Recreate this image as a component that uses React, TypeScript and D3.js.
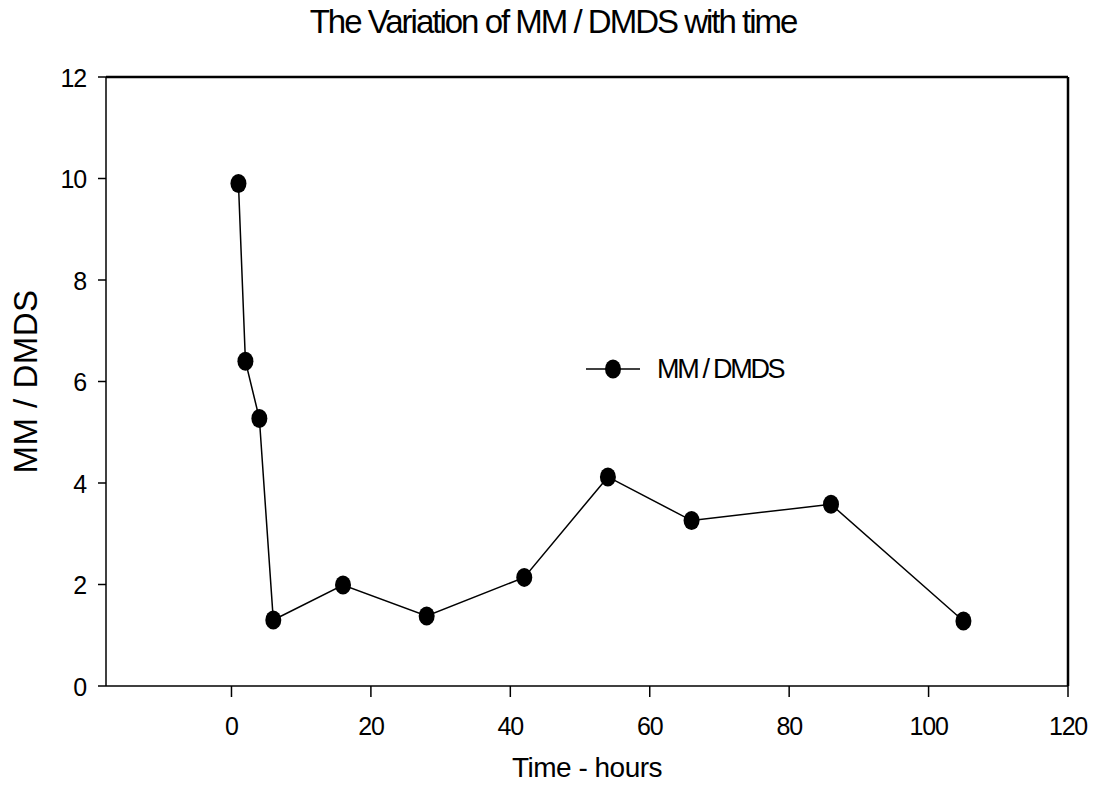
import React from 'react';
import * as d3 from 'd3';

// data
const hours = [1, 2, 4, 6, 16, 28, 42, 54, 66, 86, 105];
const ratio = [9.9, 6.4, 5.27, 1.3, 1.99, 1.38, 2.14, 4.12, 3.26, 3.58, 1.28];
const xTicks = [0, 20, 40, 60, 80, 100, 120];
const yTicks = [0, 2, 4, 6, 8, 10, 12];
const seriesName = 'MM / DMDS';

const W = 1097;
const H = 811;
const plot = { left: 106, right: 1068, top: 77, bottom: 686 };
const font = '"Liberation Sans", Arial, sans-serif';

export default function App() {
  const x = d3.scaleLinear().domain([-18, 120]).range([plot.left, plot.right]);
  const y = d3.scaleLinear().domain([0, 12]).range([plot.bottom, plot.top]);

  const points = hours.map((h, i) => [h, ratio[i]] as [number, number]);
  const line = d3
    .line<[number, number]>()
    .x((d) => x(d[0]))
    .y((d) => y(d[1]));

  const legendY = 369;
  const legendX = 586;

  return (
    <svg width={W} height={H} style={{ position: 'absolute', left: 0, top: 0, background: '#fff' }} fontFamily={font}>
      <text x={553} y={33} textAnchor="middle" fontSize={33} letterSpacing={-2}>
        The Variation of MM / DMDS with time
      </text>

      {/* frame */}
      <line x1={plot.left} x2={plot.right} y1={plot.top} y2={plot.top} stroke="#000" strokeWidth={2.5} />
      <line x1={plot.right} x2={plot.right} y1={plot.top} y2={plot.bottom} stroke="#000" strokeWidth={2.5} />
      <line x1={plot.left} x2={plot.left} y1={plot.top} y2={plot.bottom} stroke="#000" strokeWidth={1.5} />
      <line x1={plot.left} x2={plot.right} y1={plot.bottom} y2={plot.bottom} stroke="#000" strokeWidth={1.5} />

      {/* y axis */}
      {yTicks.map((t) => (
        <g key={'y' + t}>
          <line x1={plot.left - 8} x2={plot.left} y1={y(t)} y2={y(t)} stroke="#000" strokeWidth={1.5} />
          <text x={86} y={y(t) + 9.5} textAnchor="end" fontSize={25} letterSpacing={-1.2}>
            {t}
          </text>
        </g>
      ))}

      {/* x axis */}
      {xTicks.map((t) => (
        <g key={'x' + t}>
          <line x1={x(t)} x2={x(t)} y1={plot.bottom} y2={plot.bottom + 11} stroke="#000" strokeWidth={1.5} />
          <text x={x(t)} y={735} textAnchor="middle" fontSize={25} letterSpacing={-1.2}>
            {t}
          </text>
        </g>
      ))}

      <text x={587} y={777} textAnchor="middle" fontSize={28} letterSpacing={-0.5}>
        Time - hours
      </text>
      <text
        transform={`translate(37,${(plot.top + plot.bottom) / 2}) rotate(-90)`}
        textAnchor="middle"
        fontSize={33}
        letterSpacing={0.5}
      >
        {seriesName}
      </text>

      {/* series */}
      <path d={line(points) || ''} fill="none" stroke="#000" strokeWidth={1.5} />
      {points.map((d, i) => (
        <ellipse key={i} cx={x(d[0])} cy={y(d[1])} rx={8} ry={9.5} fill="#000" />
      ))}

      {/* legend */}
      <line x1={legendX} x2={legendX + 54} y1={legendY} y2={legendY} stroke="#000" strokeWidth={1.5} />
      <ellipse cx={legendX + 27} cy={legendY} rx={8} ry={9.5} fill="#000" />
      <text x={657} y={378} fontSize={27} letterSpacing={-2.3}>
        {seriesName}
      </text>
    </svg>
  );
}
